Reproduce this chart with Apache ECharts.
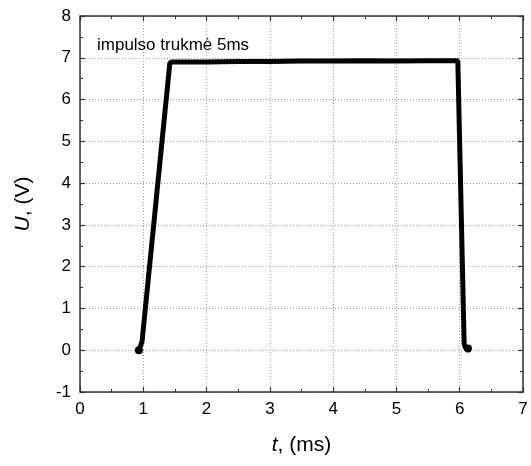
<!DOCTYPE html>
<html>
<head>
<meta charset="utf-8">
<script src="https://cdn.jsdelivr.net/npm/echarts@6/dist/echarts.min.js"></script>
<style>
  html, body { margin: 0; padding: 0; background: #fff; }
  #chart { width: 531px; height: 466px; }
</style>
</head>
<body>
<div id="chart"></div>
<script>
// impulso signalas: laikas (ms) ir įtampa (V)
const timeMs = [0.93, 0.96, 0.98, 1.42, 1.46, 2.0, 2.5, 3.0, 3.5, 4.0, 4.5, 5.0, 5.5, 5.97, 6.07, 6.09, 6.13];
const voltage = [0.0, 0.03, 0.2, 6.88, 6.9, 6.9, 6.91, 6.91, 6.92, 6.92, 6.93, 6.92, 6.93, 6.93, 0.15, 0.06, 0.04];
const xTicks = [0, 1, 2, 3, 4, 5, 6, 7];
const yTicks = [-1, 0, 1, 2, 3, 4, 5, 6, 7, 8];
const noteText = 'impulso trukmė 5ms';

const font = 'Liberation Sans, Arial, sans-serif';
const axisColor = '#333';

const chart = echarts.init(document.getElementById('chart'));

// taškai galuose - su apskritimu
const seriesData = timeMs.map((t, i) => {
  const isEnd = i === 0 || i === timeMs.length - 1;
  return {
    value: [t, voltage[i]],
    symbol: isEnd ? 'circle' : 'none',
    symbolSize: isEnd ? 8 : 0
  };
});

function baseAxis(extra) {
  return Object.assign({
    type: 'value',
    axisLine: { show: true, onZero: false, lineStyle: { color: axisColor, width: 1.5 } },
    axisTick: { show: true, inside: true, length: 5, lineStyle: { color: axisColor, width: 1.2 } },
    minorTick: { show: true, splitNumber: 2, length: 3, lineStyle: { color: axisColor, width: 1 } },
    splitLine: { show: false },
    axisLabel: { show: false }
  }, extra);
}

const option = {
  backgroundColor: '#fff',
  animation: false,
  title: {
    text: noteText,
    left: 92,
    top: 32,
    textStyle: { fontFamily: font, fontSize: 17, fontWeight: 'normal', color: '#000' }
  },
  grid: { left: 80, right: 8, top: 16, bottom: 74 },
  xAxis: [
    baseAxis({
      position: 'bottom',
      min: xTicks[0], max: xTicks[xTicks.length - 1], interval: 1,
      splitLine: { show: true, lineStyle: { color: '#999', type: [1, 2], width: 1 } },
      axisLabel: { show: true, margin: 9, fontFamily: font, fontSize: 17, color: '#000' },
      name: '{i|t}, (ms)',
      nameLocation: 'middle',
      nameGap: 43,
      nameTextStyle: {
        fontFamily: font, fontSize: 21, color: '#000',
        rich: { i: { fontFamily: font, fontSize: 21, fontStyle: 'italic', color: '#000' } }
      }
    }),
    baseAxis({
      position: 'top',
      min: xTicks[0], max: xTicks[xTicks.length - 1], interval: 1
    })
  ],
  yAxis: [
    baseAxis({
      position: 'left',
      min: yTicks[0], max: yTicks[yTicks.length - 1], interval: 1,
      splitLine: { show: true, lineStyle: { color: '#999', type: [1, 2], width: 1 } },
      axisLabel: { show: true, margin: 9, fontFamily: font, fontSize: 17, color: '#000' },
      name: '{i|U}, (V)',
      nameLocation: 'middle',
      nameGap: 46,
      nameRotate: 90,
      nameTextStyle: {
        fontFamily: font, fontSize: 21, color: '#000',
        rich: { i: { fontFamily: font, fontSize: 21, fontStyle: 'italic', color: '#000' } }
      }
    }),
    baseAxis({
      position: 'right',
      min: yTicks[0], max: yTicks[yTicks.length - 1], interval: 1
    })
  ],
  series: [
    {
      type: 'line',
      xAxisIndex: 0,
      yAxisIndex: 0,
      data: seriesData,
      showSymbol: true,
      lineStyle: { color: '#000', width: 5 },
      itemStyle: { color: '#000' }
    }
  ]
};

chart.setOption(option);
</script>
</body>
</html>
